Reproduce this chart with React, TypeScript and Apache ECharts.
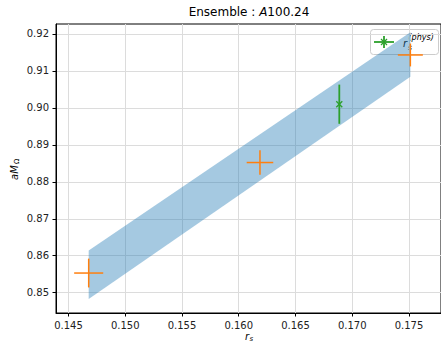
import React, { useEffect, useRef } from 'react';
import * as echarts from 'echarts';

// Orange points (with x and y error bars)
const orangeX = [0.14678, 0.16187, 0.17512];
const orangeY = [0.85532, 0.88522, 0.91432];
const orangeXErr = [0.00128, 0.00117, 0.0011];
const orangeYErr = [0.0039, 0.0033, 0.0031];

// Physical point (green)
const physX = [0.16886];
const physY = [0.901];
const physYErr = [0.0053];

// Fit band
const bandX = [0.14678, 0.17512];
const bandLow = [0.8483, 0.90846];
const bandHigh = [0.8614, 0.9205];

// Ticks
const xTicks = [0.145, 0.15, 0.155, 0.16, 0.165, 0.17, 0.175];
const yTicks = [0.85, 0.86, 0.87, 0.88, 0.89, 0.9, 0.91, 0.92];

const FONT = 'DejaVu Sans';
const ORANGE = '#ff7f0e';
const GREEN = '#2ca02c';

export default function App() {
  const ref = useRef<HTMLDivElement>(null);
  useEffect(() => {
    document.body.style.margin = '0';
    const chart = echarts.init(ref.current!, null, { renderer: 'svg' });
    const option: any = {
      animation: false,
      backgroundColor: '#fff',
      grid: { left: 56, top: 24, right: -3, bottom: 33, show: true, borderColor: '#000', borderWidth: 1, backgroundColor: 'transparent' },
      xAxis: {
        type: 'value', min: 0.1439, max: 0.17782,
        axisLine: { show: true, lineStyle: { color: '#000', width: 1 } },
        axisTick: { show: true, length: 3.5, customValues: xTicks, lineStyle: { color: '#000' } },
        axisLabel: { customValues: xTicks, margin: 7, color: '#222', fontFamily: FONT, fontSize: 10, formatter: (v: number) => v.toFixed(3) },
        splitLine: { show: true, lineStyle: { color: '#dcdcdc', width: 1 } },
        splitNumber: 7, minInterval: 0.005, maxInterval: 0.005,
      },
      yAxis: {
        type: 'value', min: 0.84451, max: 0.9227,
        axisLine: { show: true, lineStyle: { color: '#000', width: 1 } },
        axisTick: { show: true, length: 3.5, customValues: yTicks, lineStyle: { color: '#000' } },
        axisLabel: { customValues: yTicks, margin: 7, color: '#222', fontFamily: FONT, fontSize: 10, formatter: (v: number) => v.toFixed(2) },
        splitLine: { show: true, lineStyle: { color: '#dcdcdc', width: 1 } },
        splitNumber: 8, minInterval: 0.01, maxInterval: 0.01,
      },
      series: [
        {
          type: 'custom', z: 2,
          data: [[bandX[0], bandLow[0]]],
          renderItem: (_p: any, api: any) => {
            const pts = bandX.map((x, i) => api.coord([x, bandHigh[i]]));
            for (let i = bandX.length - 1; i >= 0; i--) pts.push(api.coord([bandX[i], bandLow[i]]));
            return { type: 'polygon', shape: { points: pts }, style: { fill: 'rgba(31,119,180,0.4)' } };
          },
        },
        {
          type: 'custom', z: 3,
          data: orangeX.map((x, i) => [x, orangeY[i], orangeXErr[i], orangeYErr[i]]),
          renderItem: (_p: any, api: any) => {
            const x = api.value(0), y = api.value(1), ex = api.value(2), ey = api.value(3);
            const l = api.coord([x - ex, y]), r = api.coord([x + ex, y]);
            const t = api.coord([x, y + ey]), b = api.coord([x, y - ey]);
            const st = { stroke: ORANGE, lineWidth: 1.5 };
            return {
              type: 'group', children: [
                { type: 'line', shape: { x1: l[0], y1: l[1], x2: r[0], y2: r[1] }, style: st },
                { type: 'line', shape: { x1: t[0], y1: t[1], x2: b[0], y2: b[1] }, style: st },
              ],
            };
          },
        },
        {
          type: 'custom', z: 4,
          data: physX.map((x, i) => [x, physY[i], physYErr[i]]),
          renderItem: (_p: any, api: any) => {
            const x = api.value(0), y = api.value(1), ey = api.value(2);
            const c = api.coord([x, y]);
            const t = api.coord([x, y + ey]), b = api.coord([x, y - ey]);
            const st = { stroke: GREEN, lineWidth: 1.8 };
            const m = 3;
            return {
              type: 'group', children: [
                { type: 'line', shape: { x1: t[0], y1: t[1], x2: b[0], y2: b[1] }, style: st },
                { type: 'line', shape: { x1: c[0] - m, y1: c[1] - m, x2: c[0] + m, y2: c[1] + m }, style: { stroke: GREEN, lineWidth: 1.3 } },
                { type: 'line', shape: { x1: c[0] - m, y1: c[1] + m, x2: c[0] + m, y2: c[1] - m }, style: { stroke: GREEN, lineWidth: 1.3 } },
              ],
            };
          },
        },
      ],
      graphic: [
        {
          type: 'text', x: 249, y: 12,
          style: {
            text: '{n|Ensemble : }{i|A}{n|100.24}',
            align: 'center', verticalAlign: 'middle',
            rich: {
              n: { fontFamily: FONT, fontSize: 12, fontWeight: 'normal', fill: '#000' },
              i: { fontFamily: FONT, fontSize: 12, fontWeight: 'normal', fontStyle: 'italic', fill: '#000' },
            },
          },
        },
        // x axis name r_s
        { type: 'text', x: 245, y: 336, style: { text: 'r', fontFamily: FONT, fontSize: 10, fontStyle: 'italic', fill: '#000', verticalAlign: 'middle' } },
        { type: 'text', x: 249.5, y: 339, style: { text: 's', fontFamily: FONT, fontSize: 7, fontStyle: 'italic', fill: '#000', verticalAlign: 'middle' } },
        // y axis name aM_Ω
        {
          type: 'group', x: 14, y: 180, rotation: Math.PI / 2,
          children: [
            { type: 'text', x: 0, y: 0, style: { text: 'aM', fontFamily: FONT, fontSize: 10, fontStyle: 'italic', fill: '#000', verticalAlign: 'middle' } },
            { type: 'text', x: 16, y: 3, style: { text: 'Ω', fontFamily: FONT, fontSize: 7, fill: '#000', verticalAlign: 'middle' } },
          ],
        },
        // legend
        {
          type: 'group', z: 100, children: [
            { type: 'rect', shape: { x: 370.5, y: 29.5, width: 68, height: 25, r: 3 }, style: { fill: 'rgba(255,255,255,0.8)', stroke: '#cccccc', lineWidth: 1 } },
            { type: 'line', shape: { x1: 374, y1: 42, x2: 394, y2: 42 }, style: { stroke: GREEN, lineWidth: 1.8 } },
            { type: 'line', shape: { x1: 384, y1: 36, x2: 384, y2: 48 }, style: { stroke: GREEN, lineWidth: 1.8 } },
            { type: 'line', shape: { x1: 381, y1: 39, x2: 387, y2: 45 }, style: { stroke: GREEN, lineWidth: 1.3 } },
            { type: 'line', shape: { x1: 381, y1: 45, x2: 387, y2: 39 }, style: { stroke: GREEN, lineWidth: 1.3 } },
            { type: 'text', x: 403, y: 43, style: { text: 'r', fontFamily: FONT, fontSize: 10, fontStyle: 'italic', fill: '#000', verticalAlign: 'middle' } },
            { type: 'text', x: 408.5, y: 37, style: { text: '(phys)', fontFamily: FONT, fontSize: 8, fontStyle: 'italic', fill: '#000', verticalAlign: 'middle' } },
            { type: 'text', x: 408, y: 47.5, style: { text: 's', fontFamily: FONT, fontSize: 7.5, fontStyle: 'italic', fill: '#000', verticalAlign: 'middle' } },
          ],
        },
      ],
    };
    chart.setOption(option);
    return () => chart.dispose();
  }, []);
  return <div ref={ref} style={{ width: 441, height: 346 }} />;
}
